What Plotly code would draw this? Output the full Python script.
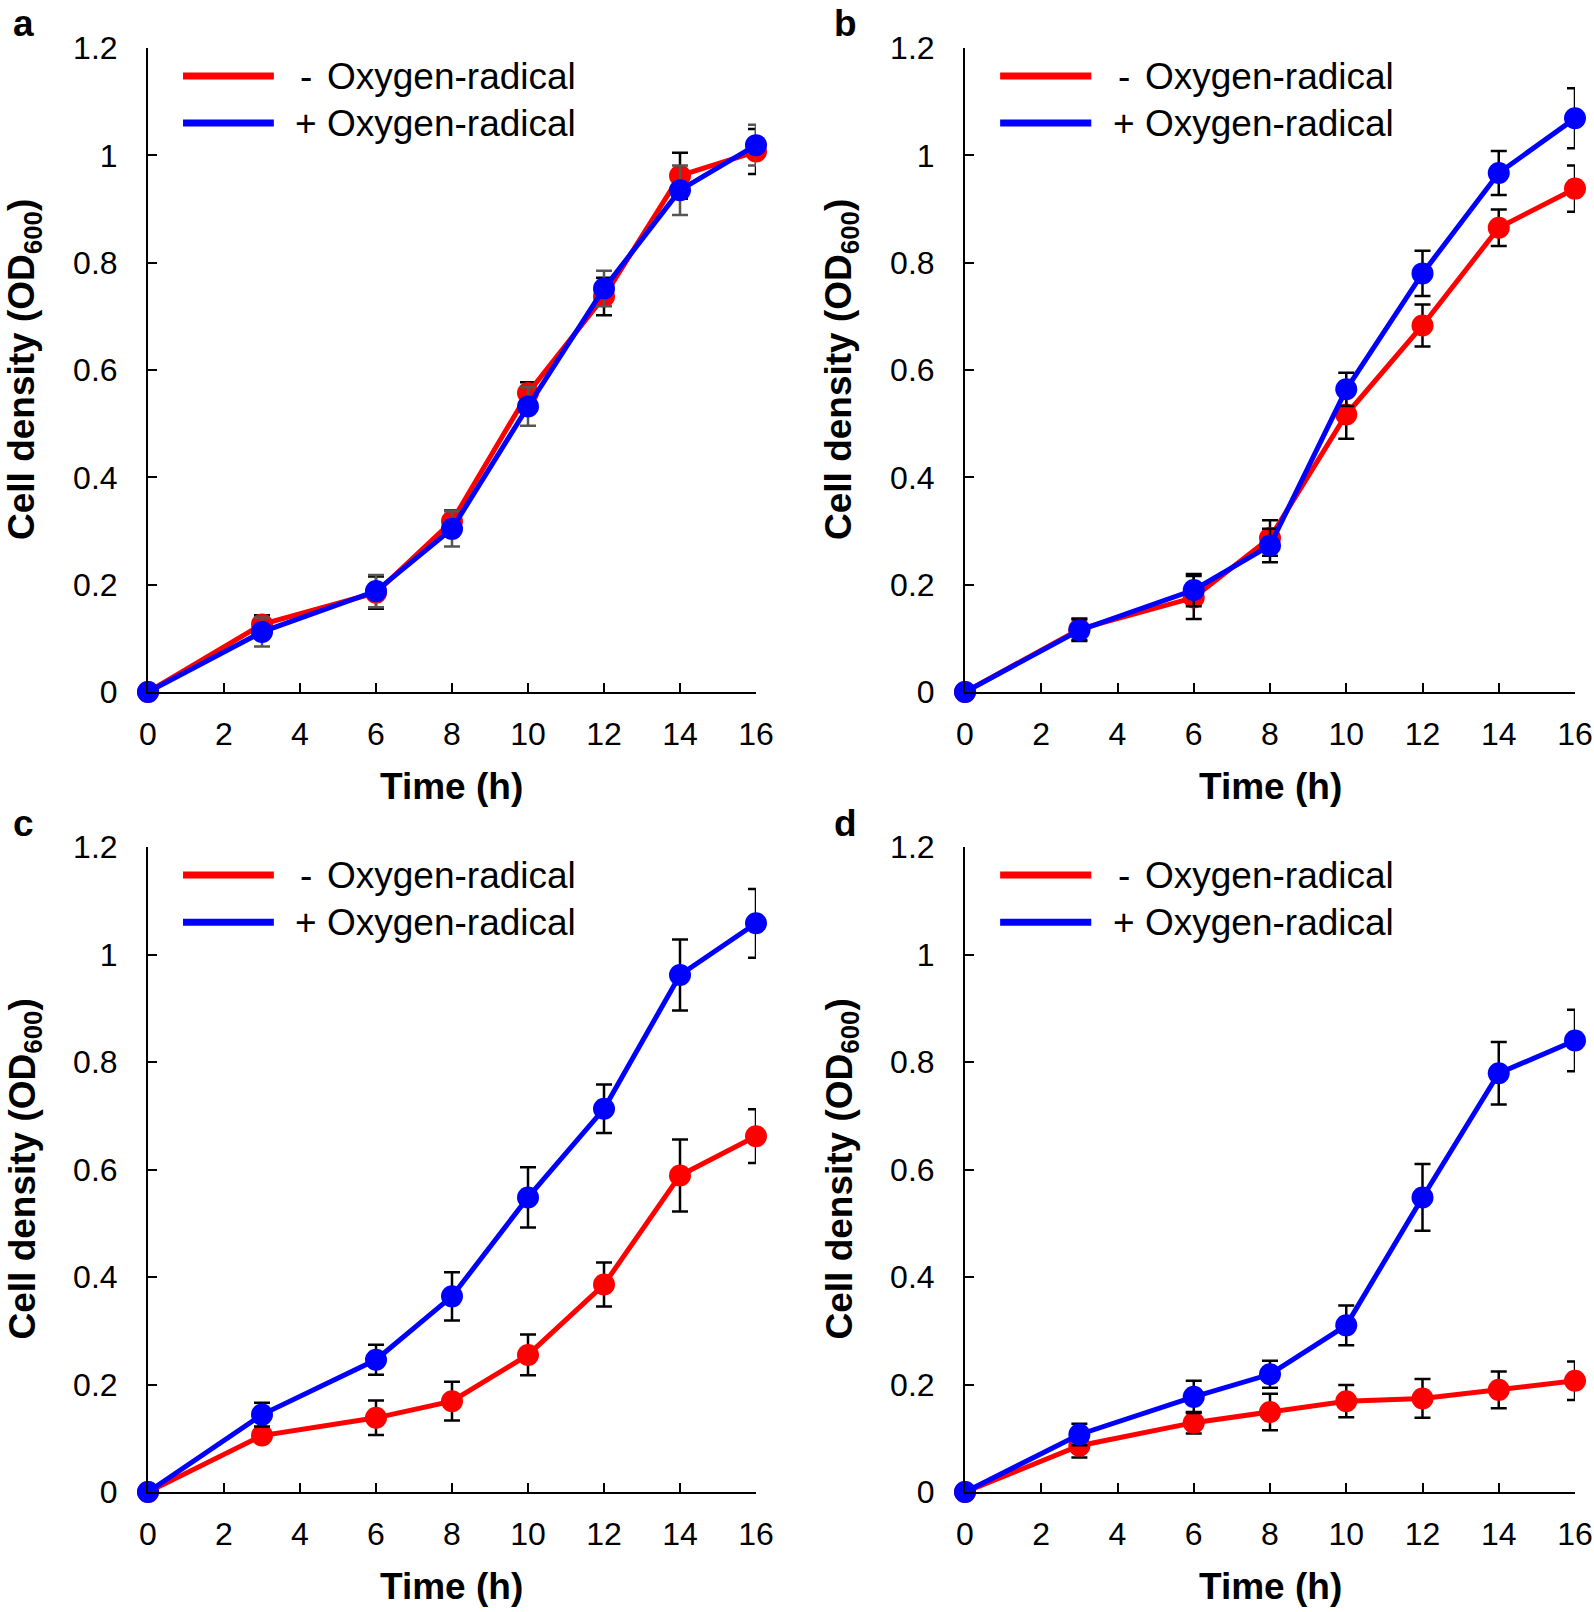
import plotly.graph_objects as go

# ---------------- data ----------------
time_h = [0, 3, 6, 8, 10, 12, 14, 16]

a_minus = [0, 0.126, 0.185, 0.318, 0.557, 0.737, 0.962, 1.007]
a_minus_err = [0, 0.017, 0.030, 0.020, 0.020, 0.035, 0.043, 0.042]
a_plus = [0, 0.112, 0.188, 0.304, 0.532, 0.752, 0.935, 1.019]
a_plus_err = [0, 0.027, 0.030, 0.033, 0.036, 0.033, 0.046, 0.038]

b_minus = [0, 0.117, 0.176, 0.287, 0.517, 0.683, 0.865, 0.938]
b_minus_err = [0, 0.020, 0.040, 0.033, 0.045, 0.039, 0.034, 0.043]
b_plus = [0, 0.115, 0.190, 0.273, 0.564, 0.780, 0.967, 1.069]
b_plus_err = [0, 0.020, 0.030, 0.031, 0.031, 0.042, 0.041, 0.056]

c_minus = [0, 0.105, 0.138, 0.169, 0.255, 0.386, 0.589, 0.662]
c_minus_err = [0, 0.010, 0.032, 0.036, 0.038, 0.041, 0.067, 0.050]
c_plus = [0, 0.144, 0.246, 0.364, 0.548, 0.713, 0.962, 1.058]
c_plus_err = [0, 0.022, 0.028, 0.045, 0.056, 0.045, 0.066, 0.064]

d_minus = [0, 0.086, 0.129, 0.149, 0.169, 0.174, 0.190, 0.207]
d_minus_err = [0, 0.022, 0.020, 0.034, 0.030, 0.036, 0.034, 0.036]
d_plus = [0, 0.107, 0.177, 0.219, 0.310, 0.548, 0.779, 0.840]
d_plus_err = [0, 0.020, 0.030, 0.025, 0.037, 0.062, 0.058, 0.057]

panel_letters = ["a", "b", "c", "d"]
series_names = ["- Oxygen-radical", "+ Oxygen-radical"]
x_ticks = [0, 2, 4, 6, 8, 10, 12, 14, 16]
y_ticks = [0, 0.2, 0.4, 0.6, 0.8, 1.0, 1.2]

RED = "#ff0000"
BLUE = "#0000ff"
FONT = "Liberation Sans, Arial, sans-serif"

W, H = 1594, 1612


def px_x(p):
    return p / W


def px_y(p):
    return 1 - p / H


x_doms = [[px_x(148), px_x(756)], [px_x(965), px_x(1575)]]
y_doms = [[px_y(692), px_y(48)], [px_y(1492), px_y(847)]]

panels = [
    (a_minus, a_minus_err, a_plus, a_plus_err, "black", "#555555"),
    (b_minus, b_minus_err, b_plus, b_plus_err, "black", "black"),
    (c_minus, c_minus_err, c_plus, c_plus_err, "black", "black"),
    (d_minus, d_minus_err, d_plus, d_plus_err, "black", "black"),
]

fig = go.Figure()
layout = dict(
    width=W, height=H,
    margin=dict(l=0, r=0, t=0, b=0, pad=0, autoexpand=False),
    paper_bgcolor="white", plot_bgcolor="white",
    showlegend=False,
    font=dict(family=FONT, color="black"),
)
annotations = []
shapes = []

for i, (mv, me, pv, pe, mec, pec) in enumerate(panels):
    row, col = divmod(i, 2)
    ax = "" if i == 0 else str(i + 1)
    xa, ya = "x" + ax, "y" + ax
    fig.add_trace(go.Scatter(
        x=time_h, y=mv, mode="lines+markers", name=series_names[0],
        xaxis=xa, yaxis=ya, cliponaxis=False,
        line=dict(color=RED, width=5),
        marker=dict(color=RED, size=22, line=dict(width=0)),
        error_y=dict(type="data", array=me, visible=True, color=mec, thickness=2.5, width=8),
    ))
    fig.add_trace(go.Scatter(
        x=time_h, y=pv, mode="lines+markers", name=series_names[1],
        xaxis=xa, yaxis=ya, cliponaxis=False,
        line=dict(color=BLUE, width=5),
        marker=dict(color=BLUE, size=22, line=dict(width=0)),
        error_y=dict(type="data", array=pe, visible=True, color=pec, thickness=2.5, width=8),
    ))
    layout["xaxis" + ax] = dict(
        domain=x_doms[col], anchor=ya, range=[0, 16], automargin=False,
        tickvals=x_ticks, ticks="inside", ticklen=9, tickwidth=2, tickcolor="black",
        showline=True, linecolor="black", linewidth=2, showgrid=False, zeroline=False,
        tickfont=dict(size=32, family=FONT, color="black"), ticklabelstandoff=13,
    )
    layout["yaxis" + ax] = dict(
        domain=y_doms[row], anchor=xa, range=[0, 1.2], automargin=False,
        tickvals=y_ticks, ticks="inside", ticklen=9, tickwidth=2, tickcolor="black",
        showline=True, linecolor="black", linewidth=2, showgrid=False, zeroline=False,
        tickfont=dict(size=32, family=FONT, color="black"), ticklabelstandoff=22,
    )
    xd = "x" + ax + " domain"
    yd = "y" + ax + " domain"
    # custom legend
    for k, (clr, yy, sign) in enumerate([(RED, 0.9565, "-"), (BLUE, 0.8835, "+")]):
        shapes.append(dict(type="line", xref=xd, yref=yd, x0=0.0576, x1=0.207, y0=yy, y1=yy,
                           line=dict(color=clr, width=7)))
        annotations.append(dict(xref=xd, yref=yd, x=0.26, y=yy, text=sign, showarrow=False,
                                xanchor="center", yanchor="middle", font=dict(size=37, family=FONT)))
        annotations.append(dict(xref=xd, yref=yd, x=0.291, y=yy, text="Oxygen-radical", showarrow=False,
                                xanchor="left", yanchor="middle", font=dict(size=37, family=FONT)))
    # axis titles
    annotations.append(dict(xref=xd, yref="paper", x=0.5, y=y_doms[row][0] - 94 / H,
                            text="<b>Time (h)</b>", showarrow=False, xanchor="center", yanchor="middle",
                            font=dict(size=37, family=FONT)))
    annotations.append(dict(xref="paper", yref=yd, x=x_doms[col][0] - 124 / W, y=0.5,
                            text="<b>Cell density (OD<sub>600</sub>)</b>", showarrow=False, textangle=-90,
                            xanchor="center", yanchor="middle", font=dict(size=37, family=FONT)))
    # panel letter
    annotations.append(dict(xref="paper", yref="paper",
                            x=x_doms[col][0] - (124 if col == 0 else 120) / W,
                            y=y_doms[row][1] + 24 / H,
                            text="<b>" + panel_letters[i] + "</b>", showarrow=False,
                            xanchor="center", yanchor="middle", font=dict(size=37, family=FONT)))

layout["annotations"] = annotations
layout["shapes"] = shapes
fig.update_layout(**layout)
fig.write_html(
    "out.html",
    config={"displayModeBar": False},
    post_script="document.body.style.margin='0';document.body.style.overflow='hidden';",
)
